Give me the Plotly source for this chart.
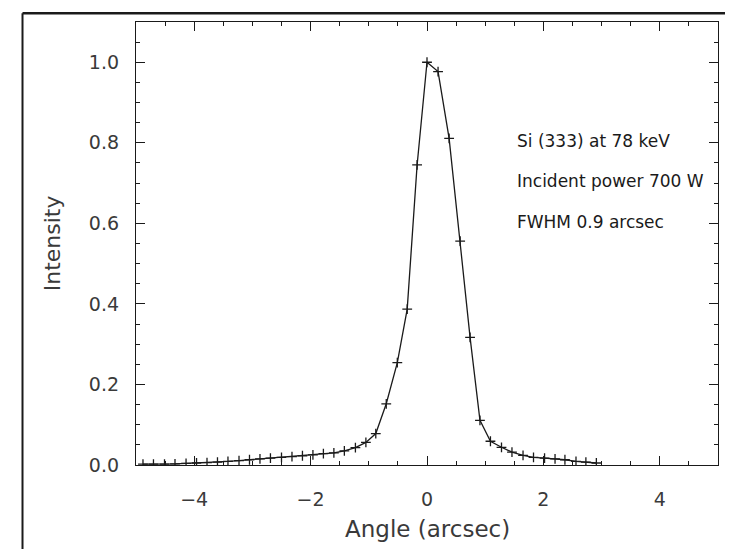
import plotly.graph_objects as go

# Angle (arcsec) and normalized intensity
angle = [-4.88, -4.70, -4.51, -4.33, -4.14, -3.96, -3.78, -3.60, -3.42, -3.23,
         -3.05, -2.87, -2.69, -2.50, -2.32, -2.14, -1.96, -1.78, -1.60, -1.42,
         -1.23, -1.05, -0.88, -0.70, -0.51, -0.34, -0.17, 0.0,
         0.19, 0.38, 0.57, 0.74, 0.91, 1.09, 1.28, 1.46, 1.65, 1.83,
         2.02, 2.20, 2.37, 2.56, 2.73, 2.91]
intensity = [0.002, 0.002, 0.002, 0.003, 0.004, 0.005, 0.006, 0.007, 0.009, 0.011,
             0.013, 0.015, 0.017, 0.019, 0.021, 0.023, 0.025, 0.028, 0.030, 0.035,
             0.043, 0.056, 0.078, 0.152, 0.254, 0.387, 0.745, 1.0,
             0.977, 0.811, 0.556, 0.317, 0.111, 0.059, 0.044, 0.032, 0.024, 0.019,
             0.017, 0.015, 0.013, 0.009, 0.007, 0.005]

x_ticks = [-4, -2, 0, 2, 4]
y_ticks = [0.0, 0.2, 0.4, 0.6, 0.8, 1.0]
notes = ["Si (333) at 78 keV", "Incident power 700 W", "FWHM 0.9 arcsec"]

INK = "#1a1a1a"
TXT = "#3a3a3a"

fig = go.Figure()
fig.add_trace(go.Scatter(
    x=angle, y=intensity, mode="lines+markers",
    line=dict(color=INK, width=1.3),
    marker=dict(symbol="cross-thin", size=7, line=dict(color=INK, width=1.3)),
    showlegend=False, hoverinfo="skip",
))

axis_common = dict(
    showgrid=False, zeroline=False, showline=True, linecolor=INK, linewidth=1.3,
    mirror="ticks", ticks="inside", ticklen=9, tickwidth=1.2, tickcolor=INK,
    tickfont=dict(family="DejaVu Sans", size=19, color=TXT),
)

fig.update_xaxes(range=[-5, 5], tickvals=x_ticks, ticklabelstandoff=17,
                 minor=dict(dtick=0.5, ticklen=4, ticks="inside", tickcolor=INK, tickwidth=1),
                 **axis_common)
fig.update_yaxes(range=[0, 1.1], tickvals=y_ticks, tickformat=".1f", ticklabelstandoff=12,
                 minor=dict(dtick=0.05, ticklen=4, ticks="inside", tickcolor=INK, tickwidth=1),
                 **axis_common)

annotations = [
    dict(text="Angle (arcsec)", xref="paper", yref="paper", x=0.5, y=-0.145,
         xanchor="center", yanchor="middle", showarrow=False,
         font=dict(family="DejaVu Sans", size=23, color=TXT)),
    dict(text="Intensity", xref="paper", yref="paper", x=-0.143, y=0.5,
         xanchor="center", yanchor="middle", textangle=-90, showarrow=False,
         font=dict(family="DejaVu Sans", size=22, color=TXT)),
]
for txt, yy in zip(notes, [0.731, 0.641, 0.549]):
    annotations.append(dict(text=txt, xref="paper", yref="paper", x=0.651, y=yy,
                            xanchor="left", yanchor="middle", showarrow=False,
                            font=dict(family="DejaVu Sans", size=17, color=INK)))

shapes = [
    dict(type="line", xref="paper", yref="paper", x0=-0.195, x1=1.04, y0=1.02, y1=1.02,
         line=dict(color=INK, width=2.5)),
    dict(type="line", xref="paper", yref="paper", x0=-0.195, x1=-0.195, y0=1.02, y1=-0.2,
         line=dict(color=INK, width=2)),
    dict(type="line", xref="paper", yref="paper", x0=-0.195, x1=1.02, y0=-0.2, y1=-0.2,
         line=dict(color=INK, width=2)),
]

fig.update_layout(
    width=733, height=549,
    margin=dict(l=128, r=23, t=14, b=92),
    paper_bgcolor="white", plot_bgcolor="white",
    annotations=annotations, shapes=shapes,
)

fig.write_html("out.html")
